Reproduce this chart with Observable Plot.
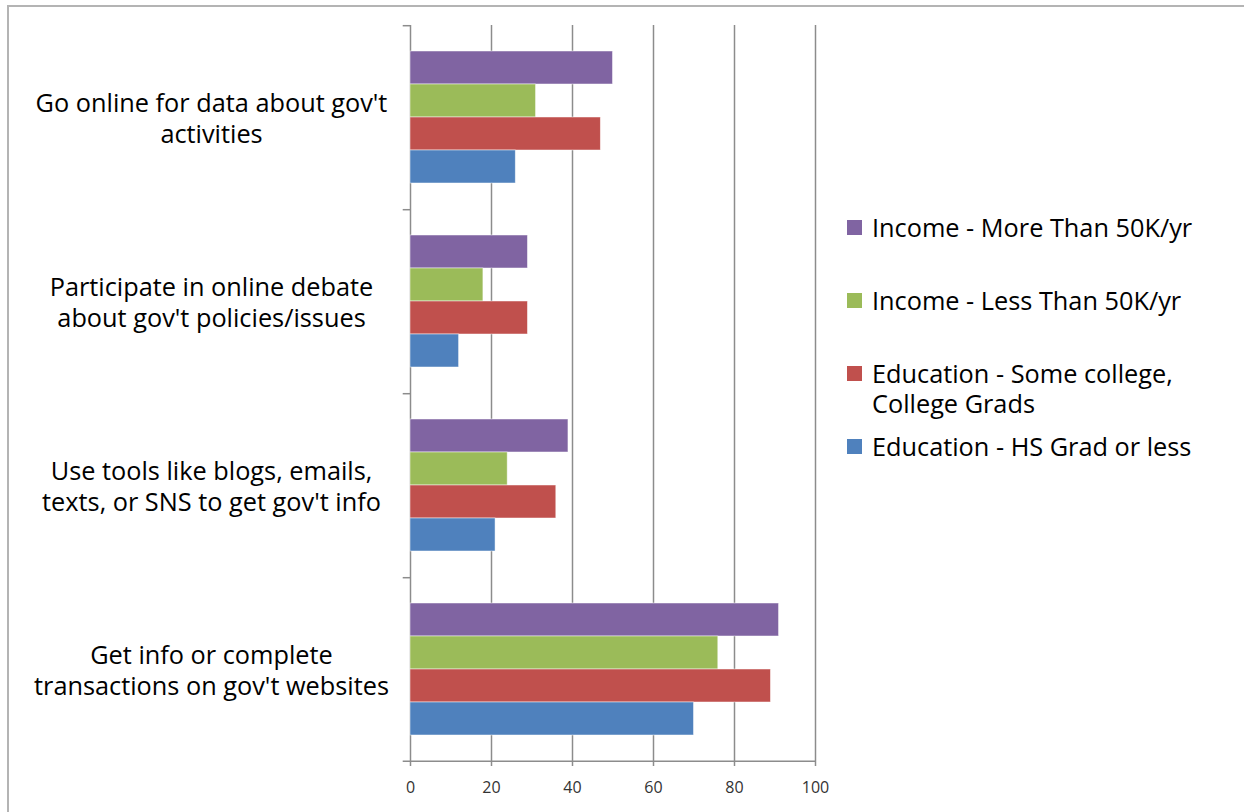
<!DOCTYPE html>
<html><head><meta charset="utf-8">
<script src="https://cdn.jsdelivr.net/npm/d3@7"></script>
<script src="https://cdn.jsdelivr.net/npm/@observablehq/plot@0.6"></script>
<style>
body{margin:0;background:#fff;}
#wrap{position:relative;width:1244px;height:812px;overflow:hidden;font-family:"Open Sans",sans-serif;background:#fff;}
#frame{position:absolute;left:7px;top:5px;right:-10px;bottom:-10px;border-top:2px solid #b4b4b4;border-left:2px solid #b4b4b4;pointer-events:none;}
#legend{position:absolute;left:847px;top:212px;width:385px;}
.item{height:73px;display:flex;align-items:flex-start;}
.sw{width:15px;height:15px;flex:none;margin-top:8px;margin-right:10px;}
.lab{font-size:25.3px;line-height:30px;color:#000;width:345px;}
svg{position:absolute;left:0;top:0;}
</style>
</head><body>
<div id="wrap"><div id="frame"></div><div id="legend"></div></div>
<script>
const categories = [
  "Go online for data about gov't activities",
  "Participate in online debate about gov't policies/issues",
  "Use tools like blogs, emails, texts, or SNS to get gov't info",
  "Get info or complete transactions on gov't websites"
];
const categoryLines = [
  "Go online for data about gov't\nactivities",
  "Participate in online debate\nabout gov't policies/issues",
  "Use tools like blogs, emails,\ntexts, or SNS to get gov't info",
  "Get info or complete\ntransactions on gov't websites"
];
const series = [
  "Income - More Than 50K/yr",
  "Income - Less Than 50K/yr",
  "Education - Some college, College Grads",
  "Education - HS Grad or less"
];
const colors = ["#8064A2", "#9BBB59", "#C0504D", "#4F81BD"];
const incomeMore = [50, 29, 39, 91];
const incomeLess = [31, 18, 24, 76];
const eduSome = [47, 29, 36, 89];
const eduHS = [26, 12, 21, 70];
const xTicks = [0, 20, 40, 60, 80, 100];

const seriesValues = [incomeMore, incomeLess, eduSome, eduHS];
const rows = [];
categories.forEach((c, i) => series.forEach((s, k) => rows.push({cat: c, series: s, value: seriesValues[k][i]})));
const labelRows = categories.map((c, i) => ({cat: c, label: categoryLines[i]}));

const W = 1244, H = 812, mL = 410, mR = 429, mT = 24, mB = 50;
const pOuter = 0.77;
const facetH = (H - mT - mB) / categories.length;
const step = facetH / (series.length + 2 * pOuter);
const edge = (0.5 + pOuter) * step;
const axisGrey = "#8c8c8c";

const chart = Plot.plot({
  width: W, height: H,
  marginLeft: mL, marginRight: mR, marginTop: mT, marginBottom: mB,
  style: {fontFamily: "Open Sans", background: "transparent", overflow: "visible"},
  x: {domain: [0, 100], ticks: xTicks},
  y: {domain: series, paddingInner: 0, paddingOuter: pOuter, axis: null},
  fy: {domain: categories, padding: 0, axis: null},
  color: {domain: series, range: colors},
  marks: [
    Plot.ruleX(xTicks, {stroke: axisGrey, strokeWidth: 1.5}),
    Plot.barX(rows, {fy: "cat", y: "series", x: "value", fill: "series", stroke: "#ffffff", strokeOpacity: 0.6, strokeWidth: 0.8}),
    Plot.ruleY(categories, {fy: d => d, y: () => series[0], x1: -1.8, x2: 0, dy: -edge, stroke: axisGrey, strokeWidth: 1.5}),
    Plot.ruleY([categories[categories.length - 1]], {fy: d => d, y: () => series[series.length - 1], x1: -1.8, x2: 100, dy: edge, stroke: axisGrey, strokeWidth: 1.5}),
    Plot.text(labelRows, {fy: "cat", text: "label", frameAnchor: "left", textAnchor: "middle", dx: -199, fontSize: 25.3, lineHeight: 1.23, fill: "#000"}),
    Plot.axisX({ticks: xTicks, tickSize: 5, tickPadding: 15, fontSize: 16, label: null, stroke: axisGrey, strokeWidth: 1.5, fill: "#333"})
  ]
});
document.getElementById("wrap").appendChild(chart);

const legend = d3.select("#legend");
series.forEach((s, k) => {
  const it = legend.append("div").attr("class", "item");
  it.append("div").attr("class", "sw").style("background", colors[k]);
  it.append("div").attr("class", "lab").text(s);
});
</script>
</body></html>
